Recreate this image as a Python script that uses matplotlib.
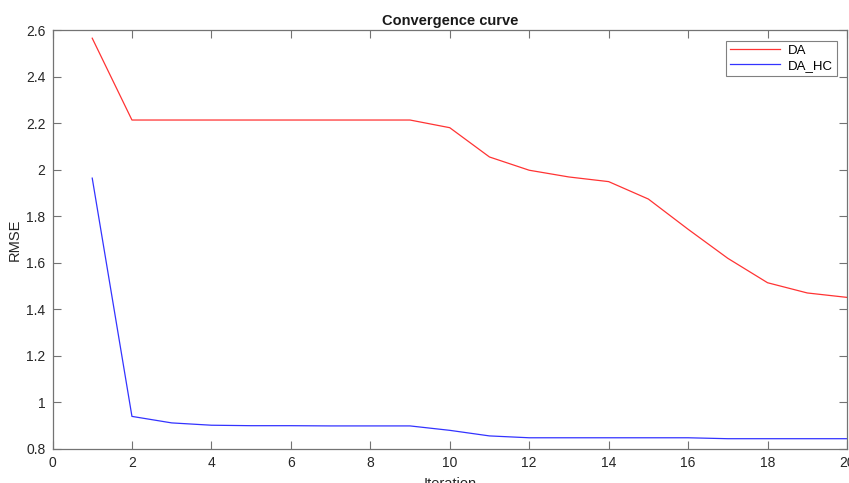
import matplotlib
matplotlib.use("Agg")
import matplotlib.pyplot as plt

iterations = list(range(1, 21))
da = [2.566, 2.214, 2.214, 2.214, 2.214, 2.214, 2.214, 2.214, 2.214, 2.181,
      2.055, 1.998, 1.969, 1.949, 1.874, 1.744, 1.619, 1.514, 1.470, 1.451]
da_hc = [1.964, 0.939, 0.911, 0.901, 0.899, 0.899, 0.898, 0.898, 0.898, 0.879,
         0.855, 0.847, 0.847, 0.847, 0.847, 0.847, 0.843, 0.843, 0.843, 0.843]
xticks = list(range(0, 21, 2))
yticks = [0.8, 1.0, 1.2, 1.4, 1.6, 1.8, 2.0, 2.2, 2.4, 2.6]
ytick_labels = ["0.8", "1", "1.2", "1.4", "1.6", "1.8", "2", "2.2", "2.4", "2.6"]

plt.rcParams['font.family'] = ['Liberation Sans', 'DejaVu Sans']

fig = plt.figure(figsize=(8.49, 4.83), dpi=100)
ax = fig.add_axes([52.5/849, 1-448.7/483, (847-52.5)/849, (448.7-30.3)/483])

ax.plot(iterations, da, color=(1, 0.2, 0.2), lw=0.9, label='DA')
ax.plot(iterations, da_hc, color=(0.2, 0.2, 1), lw=0.9, label='DA_HC')

ax.set_xlim(0, 20)
ax.set_ylim(0.8, 2.6)
ax.set_xticks(xticks)
ax.set_yticks(yticks)
ax.set_yticklabels(ytick_labels)

spine_col = '0.45'
for s in ax.spines.values():
    s.set_color(spine_col)
    s.set_linewidth(0.9)
ax.tick_params(direction='in', length=6, width=0.8, color=spine_col,
               top=True, right=True, labelsize=10, labelcolor='0.15', pad=5)

ax.set_title('Convergence curve', fontsize=10.5, fontweight='bold', pad=3.5, color='0.1')
ax.set_xlabel('Iteration', fontsize=10.5, color='0.15', labelpad=5.5)
ax.set_ylabel('RMSE', fontsize=10.5, color='0.15', labelpad=3)

leg = ax.legend(loc='upper right', bbox_to_anchor=(1 - 10/794.5, 1 - 10.5/418.4),
                borderaxespad=0, fancybox=False, framealpha=1, fontsize=9.5,
                handlelength=3.8, handletextpad=0.6, labelspacing=0.2,
                borderpad=0.3)
leg.get_frame().set_edgecolor('0.5')
leg.get_frame().set_linewidth(0.8)

fig.savefig('out.png', dpi=100)
